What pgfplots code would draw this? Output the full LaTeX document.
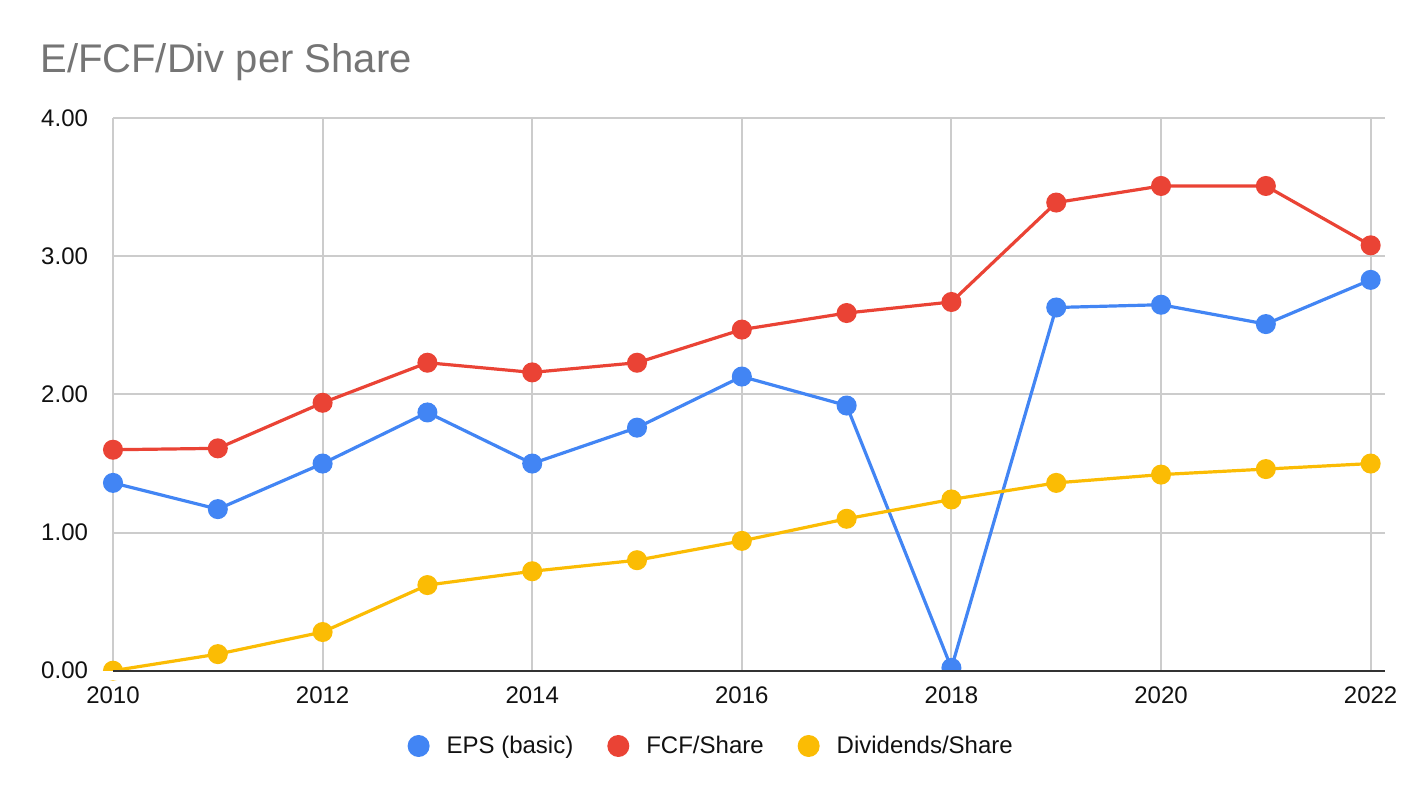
\documentclass[border=0pt]{standalone}
\usepackage{pgfplots}
\pgfplotsset{compat=1.18}
\usepackage{fontspec}
\setmainfont{Liberation Sans}
\definecolor{cblue}{HTML}{4285F4}
\definecolor{cred}{HTML}{EA4335}
\definecolor{cyellow}{HTML}{FBBC04}
\definecolor{ctitle}{HTML}{757575}
\definecolor{cgrid}{HTML}{CCCCCC}
\definecolor{caxis}{HTML}{333333}
\definecolor{ctick}{HTML}{111111}
\begin{document}
\begin{tikzpicture}
\useasboundingbox (0,0) rectangle (712bp,399bp);
\node[anchor=base west, inner sep=0pt, text=ctitle, font=\fontsize{20bp}{24bp}\selectfont] at (20bp,362.85bp) {E/FCF/Div per Share};
\begin{axis}[
  at={(56.5bp,63.65bp)}, anchor=south west,
  scale only axis, width=636bp, height=276.2bp,
  xmin=2010, xmax=2022.137, ymin=0, ymax=4,
  xtick={2010,2012,2014,2016,2018,2020,2022},
  ytick={0,1,2,3,4},
  /pgf/number format/assume math mode=true,
  x tick label style={/pgf/number format/1000 sep={}, yshift=-4.5bp},
  y tick label style={/pgf/number format/.cd, fixed, fixed zerofill, precision=2, /tikz/.cd, xshift=-9bp},
  tick label style={font=\fontsize{12bp}{14bp}\selectfont, text=ctick},
  grid=major, grid style={draw=cgrid, line width=1bp},
  axis line style={draw=none},
  major tick length=0pt,
  clip=false,
  legend columns=3,
  legend cell align=left,
  legend image code/.code={\fill[#1, draw=none] (0,0) circle (5.5bp);},
  legend style={at={(0.4695,-0.1363)}, anchor=center, draw=none, fill=none,
    font=\fontsize{12bp}{14bp}\selectfont, text=ctick,
    column sep=0pt, inner sep=0pt, outer sep=0pt,
    nodes={inner sep=0pt},
    /tikz/every odd column/.append style={column sep=8.5bp},
    /tikz/every even column/.append style={column sep=17bp}},
  after end axis/.code={
    \fill[white] (axis cs:2009.86,0) rectangle (axis cs:2022.2,-0.066);
    \draw[caxis, line width=1bp] (axis cs:2010,0) -- (axis cs:2022.137,0);
  },
]
\addplot[color=cblue, line width=1.6bp, mark=*, mark size=4.2bp] coordinates {
 (2010,1.36) (2011,1.17) (2012,1.50) (2013,1.87) (2014,1.50) (2015,1.76) (2016,2.13)
 (2017,1.92) (2018,0.02) (2019,2.63) (2020,2.65) (2021,2.51) (2022,2.83)};
\addlegendentry{EPS (basic)}
\addplot[color=cred, line width=1.6bp, mark=*, mark size=4.2bp] coordinates {
 (2010,1.60) (2011,1.61) (2012,1.94) (2013,2.23) (2014,2.16) (2015,2.23) (2016,2.47)
 (2017,2.59) (2018,2.67) (2019,3.39) (2020,3.51) (2021,3.51) (2022,3.08)};
\addlegendentry{FCF/Share}
\addplot[color=cyellow, line width=1.6bp, mark=*, mark size=4.2bp] coordinates {
 (2010,0.00) (2011,0.12) (2012,0.28) (2013,0.62) (2014,0.72) (2015,0.80) (2016,0.94)
 (2017,1.10) (2018,1.24) (2019,1.36) (2020,1.42) (2021,1.46) (2022,1.50)};
\addlegendentry{Dividends/Share}
\end{axis}
\end{tikzpicture}
\end{document}
